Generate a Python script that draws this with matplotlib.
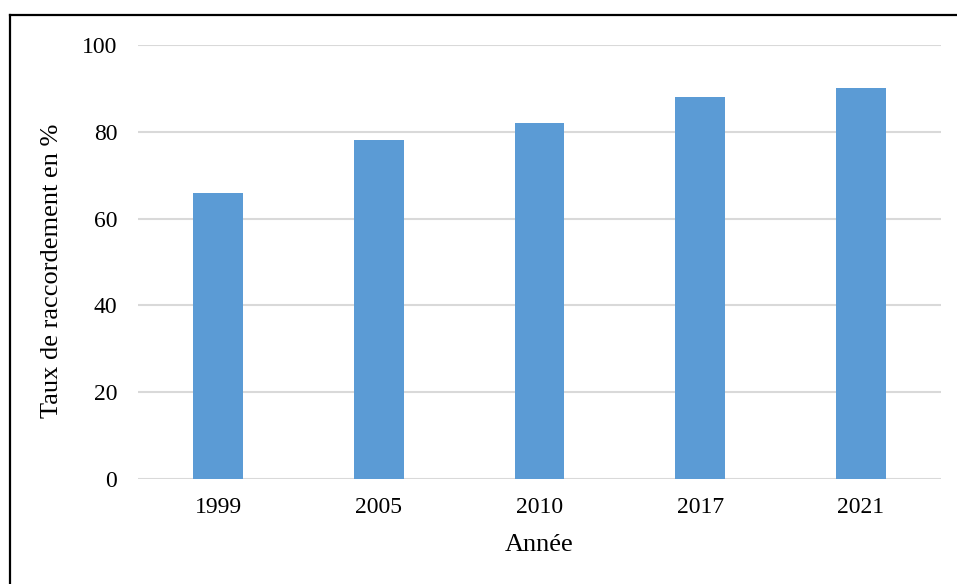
import matplotlib.pyplot as plt
from matplotlib.lines import Line2D

plt.rcParams["font.family"] = ["Liberation Serif", "DejaVu Serif"]

annees = ["1999", "2005", "2010", "2017", "2021"]
taux = [66, 78, 82, 88, 90]
graduations = [0, 20, 40, 60, 80, 100]

fig = plt.figure(figsize=(9.57, 5.84), dpi=100)
ax = fig.add_axes([138 / 957, 1 - 479 / 584, 803 / 957, 434 / 584])

x = range(len(annees))
ax.bar(x, taux, width=0.31, color="#5b9bd5", zorder=3)

ax.set_xlim(-0.5, len(annees) - 0.5)
ax.set_ylim(0, 100)
ax.set_yticks(graduations)
ax.set_xticks(list(x))
ax.set_xticklabels(annees)
ax.grid(axis="y", color="#d9d9d9", linewidth=1.5, zorder=0)
ax.tick_params(length=0, labelsize=17, colors="black")
ax.tick_params(axis="x", pad=13)
ax.tick_params(axis="y", pad=15)
for s in ax.spines.values():
    s.set_visible(False)

ax.set_xlabel("Année", fontsize=19, va="center")
ax.set_ylabel("Taux de raccordement en %", fontsize=19, va="center")
ax.xaxis.set_label_coords(0.5, -0.152)
ax.yaxis.set_label_coords(-0.107, 0.479)

# cadre noir (haut et gauche)
fig.add_artist(Line2D([10 / 957, 1], [1 - 15 / 584, 1 - 15 / 584], color="black", linewidth=1.6, transform=fig.transFigure))
fig.add_artist(Line2D([10 / 957, 10 / 957], [0, 1 - 15 / 584], color="black", linewidth=1.6, transform=fig.transFigure))

fig.savefig("out.png", dpi=100)
